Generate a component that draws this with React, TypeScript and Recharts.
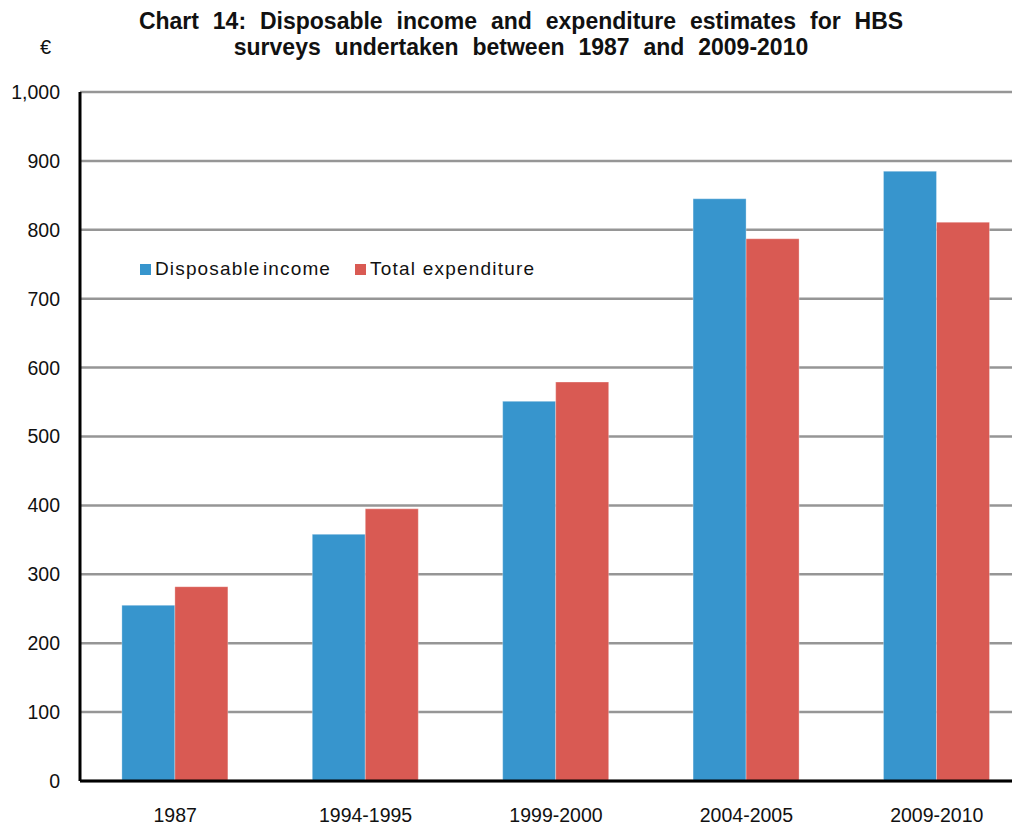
import React from "react";
import { BarChart, Bar, XAxis, YAxis, CartesianGrid } from "recharts";

const categories = ["1987", "1994-1995", "1999-2000", "2004-2005", "2009-2010"];
const disposableIncome = [255, 358, 551, 845, 885];
const totalExpenditure = [282, 395, 579, 787, 811];
const yTicks = [0, 100, 200, 300, 400, 500, 600, 700, 800, 900, 1000];
const seriesNames = ["Disposable income", "Total expenditure"];

const data = categories.map((c, i) => ({
  name: c,
  income: disposableIncome[i],
  expenditure: totalExpenditure[i],
}));

const BLUE = "#3795CD";
const RED = "#D95A53";
const FONT = "'Liberation Sans', Arial, sans-serif";

const fmt = (v: number) => v.toLocaleString("en-US");

export default function App() {
  return (
    <div style={{ position: "relative", width: 1012, height: 820, overflow: "hidden", background: "#fff" }}>
      <div
        style={{
          position: "absolute",
          left: 0,
          top: 0,
          width: 1026,
          textAlign: "center",
          fontFamily: FONT,
          fontWeight: "bold",
          fontSize: 23,
          lineHeight: "26px",
          color: "#111",
          wordSpacing: 7.5,
        }}
      >
        Chart 14: Disposable income and expenditure estimates for HBS
        <br />
        surveys undertaken between 1987 and 2009-2010
      </div>
      <div
        style={{
          position: "absolute",
          left: 32,
          top: 27,
          fontFamily: FONT,
          fontSize: 20,
          lineHeight: "24px",
          color: "#111",
        }}
      >
        €
      </div>
      <div
        style={{
          position: "absolute",
          left: 132,
          top: 250,
          display: "flex",
          alignItems: "center",
          fontFamily: FONT,
          fontSize: 19,
          color: "#111",
          zIndex: 2,
        }}
      >
        <span style={{ width: 11, height: 11, background: BLUE, display: "inline-block", marginRight: 4 }} />
        <span style={{ letterSpacing: 1.15, wordSpacing: -4 }}>{seriesNames[0]}</span>
        <span style={{ width: 11, height: 11, background: RED, display: "inline-block", marginLeft: 24, marginRight: 4 }} />
        <span style={{ letterSpacing: 1.2 }}>{seriesNames[1]}</span>
      </div>
      <BarChart
        width={1040}
        height={820}
        data={data}
        margin={{ top: 84, right: 16, left: 0, bottom: 17 }}
        barCategoryGap="22%"
        barGap={0}
      >
        <CartesianGrid horizontal vertical={false} stroke="#969696" strokeWidth={2.5} />
        <XAxis
          dataKey="name"
          height={30}
          tickLine={false}
          tickMargin={21}
          axisLine={{ stroke: "#000", strokeWidth: 3 }}
          tick={{ fill: "#111", fontSize: 19.5, fontFamily: FONT }}
          interval={0}
        />
        <YAxis
          width={72}
          domain={[0, 1000]}
          ticks={yTicks}
          tickFormatter={fmt}
          tickLine={false}
          tickMargin={14}
          axisLine={{ stroke: "#000", strokeWidth: 3 }}
          tick={{ fill: "#111", fontSize: 19.5, fontFamily: FONT }}
        />
        <Bar dataKey="income" name={seriesNames[0]} fill={BLUE} stroke="#ffffff" strokeOpacity={0.5} strokeWidth={0.6} isAnimationActive={false} />
        <Bar dataKey="expenditure" name={seriesNames[1]} fill={RED} stroke="#ffffff" strokeOpacity={0.5} strokeWidth={0.6} isAnimationActive={false} />
      </BarChart>
    </div>
  );
}
